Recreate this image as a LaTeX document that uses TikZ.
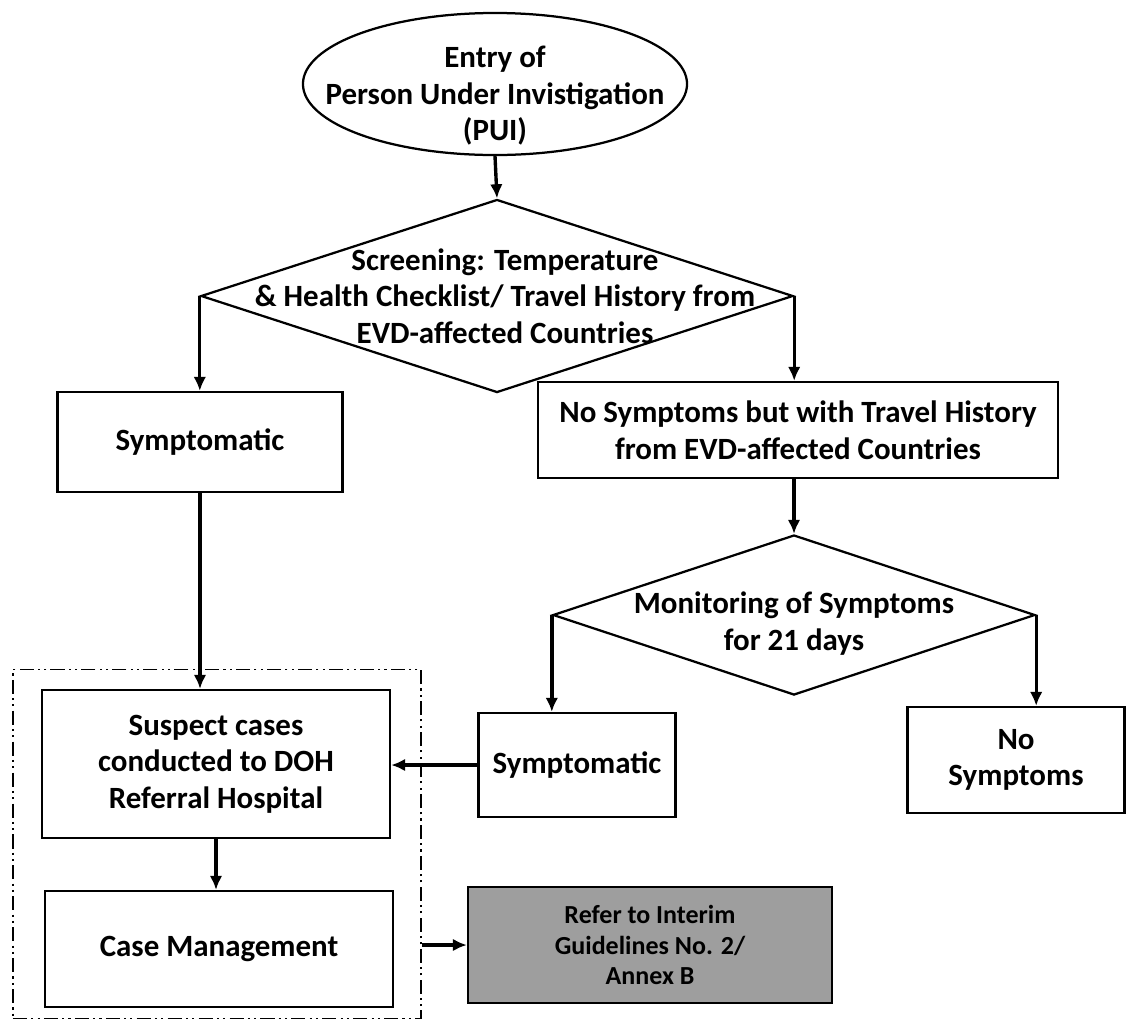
\documentclass[tikz,border=0pt]{standalone}
\usepackage{fontspec}
\setmainfont{Carlito}
\usetikzlibrary{shapes.geometric,arrows.meta}
\definecolor{refgray}{RGB}{158,158,158}

\begin{document}
\begin{tikzpicture}[x=0.025cm,y=-0.025cm,
	txt/.style={font=\fontsize{22}{26}\selectfont\bfseries,align=center},
	box/.style={draw,line width=1.6pt,txt,inner sep=2pt},
	dmd/.style={draw,diamond,line width=1.6pt,inner sep=0pt},
	arr/.style={line width=2.4pt,-{Latex[length=10pt,width=9pt]}}]
	\useasboundingbox (0,0) rectangle (1128,1022);

	% entry and first screening
	\node[draw,ellipse,line width=1.6pt,minimum width=9.6cm,minimum height=3.55cm,
		label={[txt,yshift=-0.3cm]center:Entry of\\Person Under Invistigation\\(PUI)}] (pui) at (495,84) {};
	\node[dmd,minimum width=14.8cm,minimum height=4.825cm,
		label={[txt,xshift=0.2cm]center:Screening: Temperature\\\& Health Checklist/ Travel History from\\EVD-affected Countries}] (screen) at (497,296) {};
	\draw[arr] (pui.south) -- (screen.north);

	% two branches
	\node[box,minimum width=7.125cm,minimum height=2.5cm] (symA) at (200,442) {Symptomatic};
	\node[box,minimum width=13cm,minimum height=2.4cm] (trav) at (798,430)
		{No Symptoms but with Travel History\\from EVD-affected Countries};
	\draw[arr] (screen.west) -- (screen.west |- symA.north);
	\draw[arr] (screen.east) -- (screen.east |- trav.north);

	% monitoring
	\node[dmd,minimum width=12.05cm,minimum height=4cm,
		label={[txt,yshift=-0.22cm]center:Monitoring of Symptoms\\for 21 days}] (monitor) at (794,615) {};
	\draw[arr] (monitor.north |- trav.south) -- (monitor.north);
	\node[box,minimum width=4.925cm,minimum height=2.6cm] (symB) at (577,765) {Symptomatic};
	\node[box,minimum width=5.425cm,minimum height=2.65cm] (nosym) at (1016,760) {No\\Symptoms};
	\draw[arr] (monitor.west) -- (monitor.west |- symB.north);
	\draw[arr] (monitor.east) -- (monitor.east |- nosym.north);

	% referral hospital
	\node[draw,line width=1pt,dash pattern=on 10pt off 3pt on 1.5pt off 3pt on 1.5pt off 3pt,
		minimum width=10.2cm,minimum height=8.725cm] (frame) at (217,844) {};
	\node[box,minimum width=8.7cm,minimum height=3.7cm] (suspect) at (216,764)
		{Suspect cases\\conducted to DOH\\Referral Hospital};
	\node[box,minimum width=8.7cm,minimum height=2.9cm] (casemgmt) at (219,949) {Case Management};
	\node[box,fill=refgray,font=\fontsize{18.5}{22}\selectfont\bfseries,
		minimum width=9.1cm,minimum height=2.9cm] (refer) at (650,945)
		{Refer to Interim\\Guidelines No. 2/\\Annex B};
	\draw[arr] (symA.south) -- (symA.south |- suspect.north);
	\draw[arr] (symB.west) -- (symB.west -| suspect.east);
	\draw[arr] (suspect.south) -- (suspect.south |- casemgmt.north);
	\draw[arr] (frame.east |- refer.west) -- (refer.west);
\end{tikzpicture}
\end{document}
